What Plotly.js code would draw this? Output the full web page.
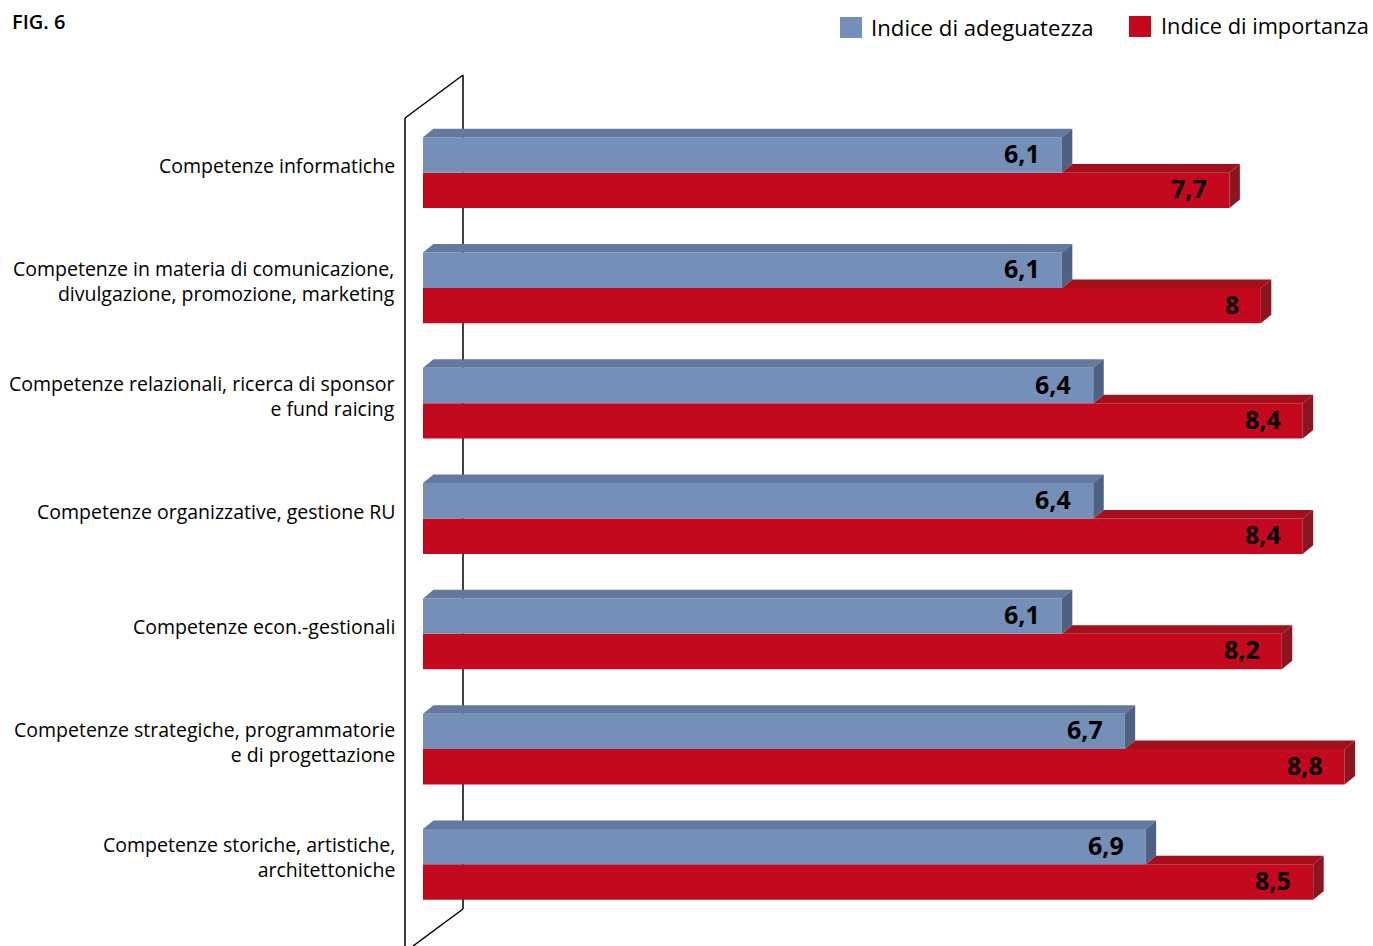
<!DOCTYPE html>
<html>
<head>
<meta charset="utf-8">
<script src="https://cdn.plot.ly/plotly-3.0.1.min.js"></script>
<style>html,body{margin:0;padding:0;background:#fff;}#chart{width:1373px;height:946px;}</style>
</head>
<body>
<div id="chart"></div>
<script>
// ---- data ----
const categories = [
  "Competenze informatiche",
  "Competenze in materia di comunicazione,<br>divulgazione, promozione, marketing",
  "Competenze relazionali, ricerca di sponsor<br>e fund raicing",
  "Competenze organizzative, gestione RU",
  "Competenze econ.-gestionali",
  "Competenze strategiche, programmatorie<br>e di progettazione",
  "Competenze storiche, artistiche,<br>architettoniche"
];
const seriesNames = ["Indice di adeguatezza", "Indice di importanza"];
const adeguatezza = [6.1, 6.1, 6.4, 6.4, 6.1, 6.7, 6.9];
const importanza  = [7.7, 8.0, 8.4, 8.4, 8.2, 8.8, 8.5];

// ---- styling / geometry ----
const FONT = "'Open Sans', sans-serif";
const colFront = ["#7590B8", "#C4091F"];
const colTop   = ["#6479A0", "#A3101B"];
const colSide  = ["#4E6182", "#8C1620"];
const W = 0.307;      // bar thickness (category units)
const DX = 0.100;     // depth offset along value axis
const DY = 0.074;     // depth offset along category axis
const M = {l: 423, r: 7, t: 115, b: 24};
const PW = 1373 - M.l - M.r, PH = 946 - M.t - M.b;
const px = x => (x - M.l) / PW;           // pixel -> paper x
const py = y => (946 - M.b - y) / PH;     // pixel -> paper y

const idx = categories.map((_, i) => i);
const fmt = v => String(v).replace('.', ',');

const traces = [];
// fronts
traces.push({
  type: 'bar', orientation: 'h', x: importanza, y: idx, base: 0,
  offset: 0, width: W, marker: {color: colFront[1], line: {width: 0}},
  name: seriesNames[1], showlegend: false, hoverinfo: 'x'
});
traces.push({
  type: 'bar', orientation: 'h', x: adeguatezza, y: idx, base: 0,
  offset: -W, width: W, marker: {color: colFront[0], line: {width: 0}},
  name: seriesNames[0], showlegend: false, hoverinfo: 'x'
});

function poly(xs, ys, color) {
  traces.push({type: 'scatter', mode: 'lines', x: xs, y: ys, fill: 'toself',
    fillcolor: color, line: {width: 0, color: color}, hoverinfo: 'skip', showlegend: false});
}
idx.forEach(i => {
  const vb = adeguatezza[i], vr = importanza[i];
  // red top face (visible part, starting behind end of blue bar)
  const yT = i;
  poly([vb, vr, vr + DX, vb + DX, vb], [yT, yT, yT - DY, yT - DY, yT], colTop[1]);
  // red side face
  poly([vr, vr + DX, vr + DX, vr, vr], [i, i - DY, i + W - DY, i + W, i], colSide[1]);
  // blue top face
  const yB = i - W;
  poly([0, vb, vb + DX, DX, 0], [yB, yB, yB - DY, yB - DY, yB], colTop[0]);
  // blue side face
  poly([vb, vb + DX, vb + DX, vb, vb], [yB, yB - DY, i - DY, i, yB], colSide[0]);
});

const annotations = [];
idx.forEach(i => {
  annotations.push({x: adeguatezza[i], y: i - W / 2, xref: 'x', yref: 'y', text: fmt(adeguatezza[i]),
    xanchor: 'right', yanchor: 'middle', xshift: -20, yshift: 2, showarrow: false,
    font: {family: FONT, size: 25, color: '#000', weight: 'bold'}});
  annotations.push({x: importanza[i], y: i + W / 2, xref: 'x', yref: 'y', text: fmt(importanza[i]),
    xanchor: 'right', yanchor: 'middle', xshift: -20, yshift: 2, showarrow: false,
    font: {family: FONT, size: 25, color: '#000', weight: 'bold'}});
  annotations.push({x: px(397), y: i - 0.06, xref: 'paper', yref: 'y', text: categories[i],
    xanchor: 'right', yanchor: 'middle', align: 'right', showarrow: false,
    font: {family: FONT, size: 19.5, color: '#000'}});
});
// legend text
annotations.push({x: px(869), y: py(28), xref: 'paper', yref: 'paper', text: seriesNames[0],
  xanchor: 'left', yanchor: 'middle', showarrow: false, font: {family: FONT, size: 22.2, color: '#000'}});
annotations.push({x: px(1159), y: py(26), xref: 'paper', yref: 'paper', text: seriesNames[1],
  xanchor: 'left', yanchor: 'middle', showarrow: false, font: {family: FONT, size: 21.8, color: '#000'}});

const ln = {color: '#000', width: 1.5};
const shapes = [
  // wall (3D backplane)
  {type: 'line', xref: 'paper', yref: 'paper', x0: px(463), y0: py(75), x1: px(463), y1: py(909), line: ln, layer: 'below'},
  {type: 'line', xref: 'paper', yref: 'paper', x0: px(405), y0: py(118), x1: px(463), y1: py(75), line: ln, layer: 'below'},
  {type: 'line', xref: 'paper', yref: 'paper', x0: px(405), y0: py(118), x1: px(405), y1: py(950), line: ln, layer: 'below'},
  {type: 'line', xref: 'paper', yref: 'paper', x0: px(463), y0: py(909), x1: px(413), y1: py(946), line: ln, layer: 'below'},
  // legend swatches
  {type: 'rect', xref: 'paper', yref: 'paper', x0: px(840), y0: py(17), x1: px(862), y1: py(38), fillcolor: colFront[0], line: {width: 0}},
  {type: 'rect', xref: 'paper', yref: 'paper', x0: px(1129), y0: py(16), x1: px(1151), y1: py(37), fillcolor: colFront[1], line: {width: 0}}
];

const layout = {
  width: 1373, height: 946,
  margin: M,
  paper_bgcolor: '#fff', plot_bgcolor: 'rgba(0,0,0,0)',
  barmode: 'overlay',
  showlegend: false,
  title: {text: 'FIG. 6', x: 12 / 1373, xref: 'container', xanchor: 'left',
    y: 1 - 22 / 946, yref: 'container', yanchor: 'middle',
    font: {family: FONT, size: 20, color: '#000', weight: 600}},
  xaxis: {range: [0, PW / 104.73], visible: false, fixedrange: true},
  yaxis: {range: [6.5, -0.5], visible: false, fixedrange: true},
  annotations: annotations,
  shapes: shapes
};

Plotly.newPlot('chart', traces, layout, {displayModeBar: false, staticPlot: true});
</script>
</body>
</html>
